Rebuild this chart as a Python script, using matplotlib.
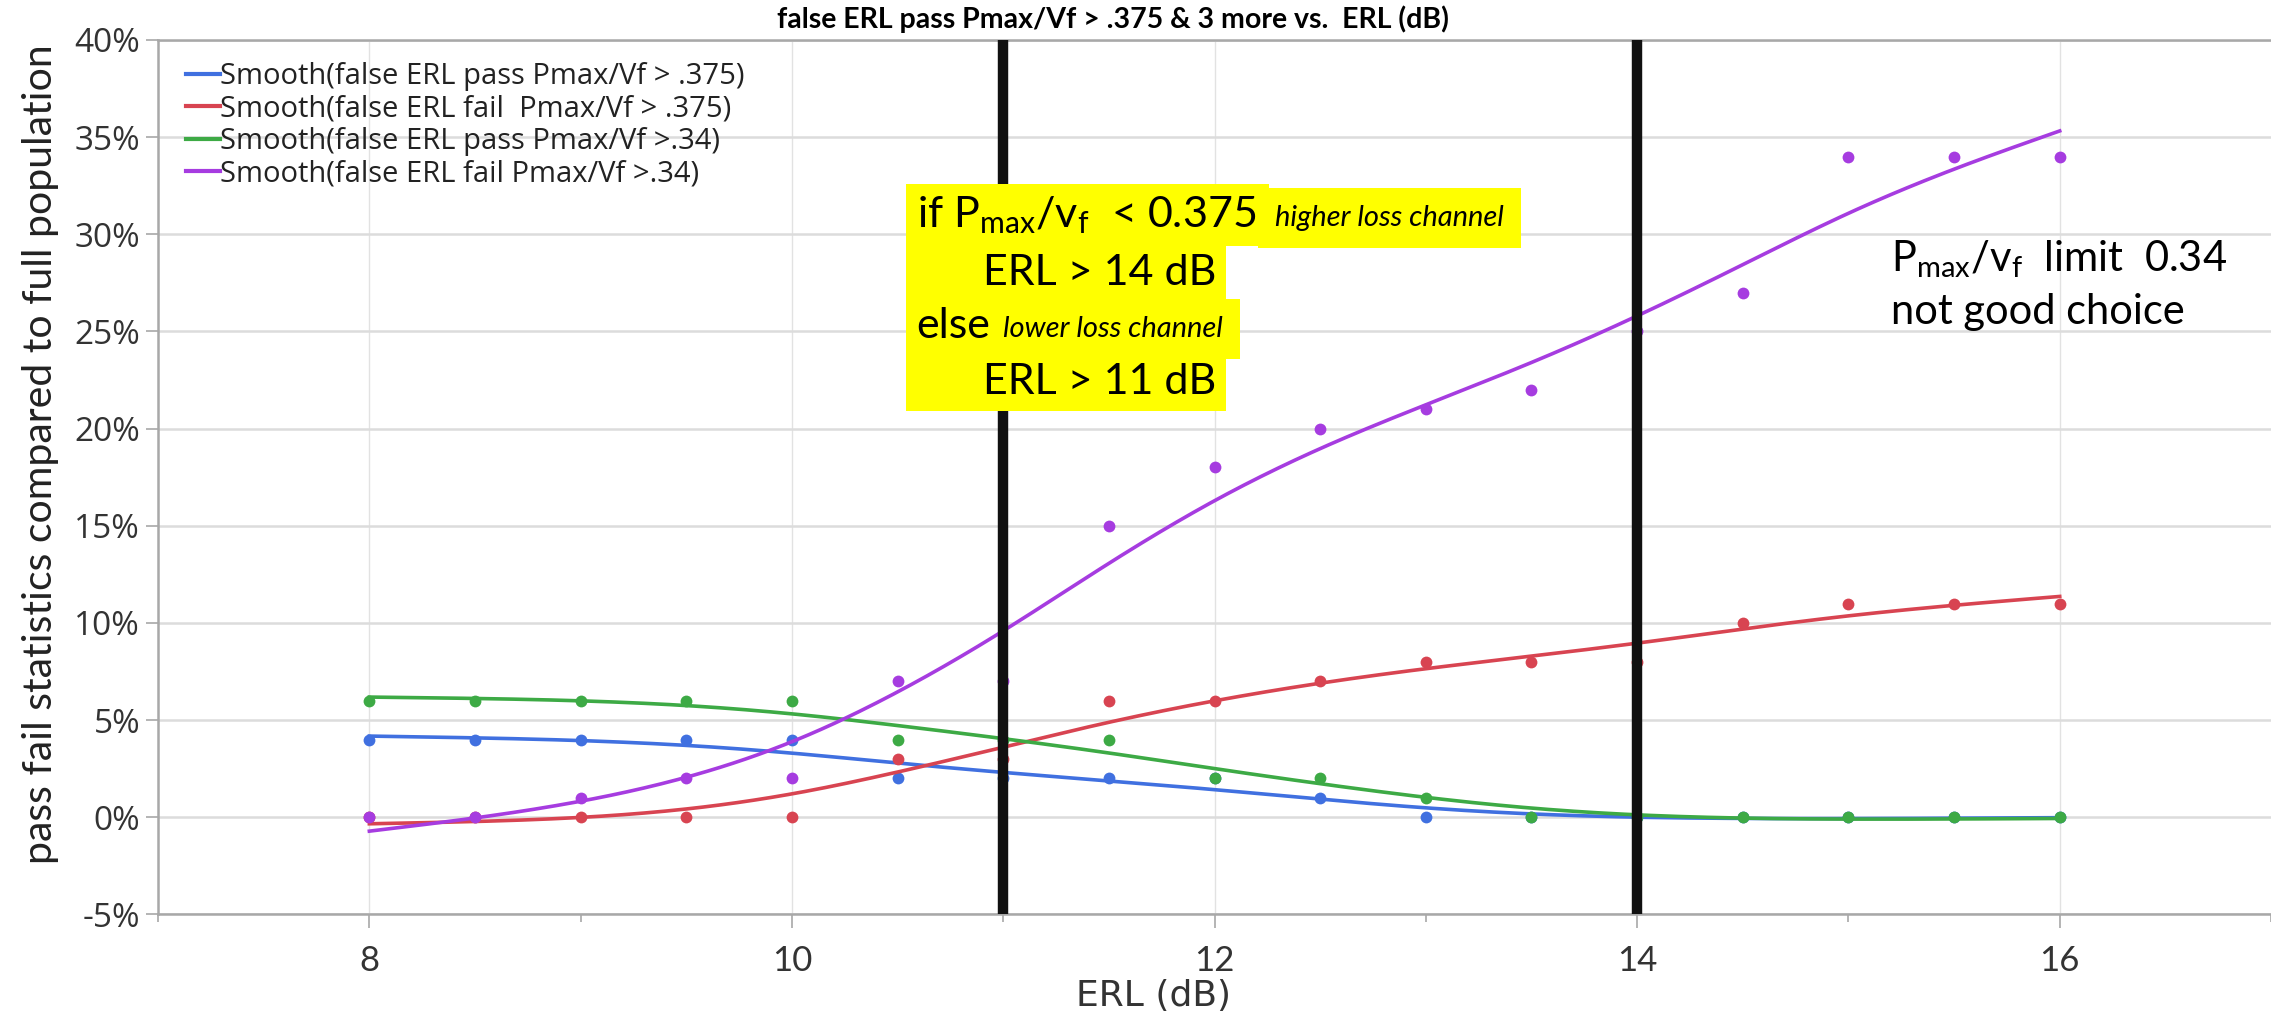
"""Smoothed false ERL pass/fail rates vs ERL, with Pmax/vf rule annotations."""

import matplotlib

matplotlib.use("Agg")

import matplotlib.pyplot as plt
import numpy as np
from matplotlib.ticker import FuncFormatter, MultipleLocator

# ---- data (percent) ----
erl = [8, 8.5, 9, 9.5, 10, 10.5, 11, 11.5, 12, 12.5, 13, 13.5, 14, 14.5, 15, 15.5, 16]
pass_375 = [4, 4, 4, 4, 4, 2, 2, 2, 2, 1, 0, 0, 0, 0, 0, 0, 0]
fail_375 = [0, 0, 0, 0, 0, 3, 3, 6, 6, 7, 8, 8, 8, 10, 11, 11, 11]
pass_34 = [6, 6, 6, 6, 6, 4, 4, 4, 2, 2, 1, 0, 0, 0, 0, 0, 0]
fail_34 = [0, 0, 1, 2, 2, 7, 7, 15, 18, 20, 21, 22, 25, 27, 34, 34, 34]

labels = [
    "Smooth(false ERL pass Pmax/Vf > .375)",
    "Smooth(false ERL fail  Pmax/Vf > .375)",
    "Smooth(false ERL pass Pmax/Vf >.34)",
    "Smooth(false ERL fail Pmax/Vf >.34)",
]
colors = ["#4070e0", "#d84451", "#3daa45", "#a63ce0"]
limits = [11, 14]

SMOOTH_LAMBDA = 0.5

plt.rcParams["mathtext.fontset"] = "custom"
plt.rcParams["mathtext.rm"] = "Lato"
plt.rcParams["mathtext.it"] = "Lato:italic"


def smoothing_spline(x, y, lam, n=401):
    """Discrete cubic smoothing spline on a fine grid."""
    x = np.asarray(x, float)
    y = np.asarray(y, float)
    grid = np.linspace(x.min(), x.max(), n)
    h = grid[1] - grid[0]
    idx = np.rint((x - grid[0]) / h).astype(int)
    w = np.zeros((len(x), n))
    w[np.arange(len(x)), idx] = 1.0
    d = np.diff(np.eye(n), 2, axis=0)
    a = w.T @ w + lam / h**3 * (d.T @ d)
    return grid, np.linalg.solve(a, w.T @ y)


fig = plt.figure(figsize=(22.71, 10.24), dpi=100)
ax = fig.add_axes([0.0696, 0.107, 0.9304, 0.854])

for series, color, label in zip([pass_375, fail_375, pass_34, fail_34], colors, labels):
    gx, gy = smoothing_spline(erl, series, SMOOTH_LAMBDA)
    ax.plot(gx, gy, color=color, lw=2.6, label=label, zorder=3)
    ax.plot(erl, series, "o", color=color, ms=8.5, mec="none", zorder=3)

for xv in limits:
    ax.axvline(xv, color="#111111", lw=7.5, zorder=4)

ax.set_xlim(7, 17)
ax.set_ylim(-5, 40)
ax.xaxis.set_major_locator(MultipleLocator(2))
ax.xaxis.set_minor_locator(MultipleLocator(1))
ax.yaxis.set_major_locator(MultipleLocator(5))
ax.yaxis.set_major_formatter(FuncFormatter(lambda v, _: f"{v:.0f}%"))
ax.grid(True, axis="y", color="#dcdcdc", lw=1.8, zorder=0)
ax.grid(True, axis="x", which="major", color="#e2e2e2", lw=1.0, zorder=0)

for side in ["left", "bottom", "top"]:
    ax.spines[side].set_color("#a8a8a8")
    ax.spines[side].set_linewidth(1.8)
ax.spines["right"].set_visible(False)
ax.tick_params(axis="both", which="both", direction="out", color="#a8a8a8", width=1.2)
ax.tick_params(axis="y", length=9, labelsize=24, labelcolor="#333333", pad=4)
ax.tick_params(axis="x", which="major", length=10, labelsize=25, labelcolor="#333333", pad=12)
ax.tick_params(axis="x", which="minor", length=6)
for lab in ax.get_yticklabels():
    lab.set_family("Open Sans")
for lab in ax.get_xticklabels():
    lab.set_family("Lato")

leg = ax.legend(
    loc="upper left",
    bbox_to_anchor=(0.005, 0.995),
    frameon=False,
    handlelength=1.15,
    handletextpad=0.0,
    labelspacing=0.12,
    borderaxespad=0.2,
    prop={"family": "Open Sans", "size": 21},
)
for line in leg.get_lines():
    line.set_linewidth(3)
for txt in leg.get_texts():
    txt.set_color("#222222")

fig.text(0.49, 0.981, "false ERL pass Pmax/Vf > .375 & 3 more vs.  ERL (dB)",
         ha="center", va="center", fontsize=20.5, fontweight="bold", family="Lato")
fig.text(0.018, 0.556, "pass fail statistics compared to full population",
         rotation=90, ha="center", va="center", fontsize=29.5, family="Lato", color="#222222")
fig.text(0.508, 0.027, "ERL (dB)", ha="center", va="center", fontsize=26, color="#333333")

# ---- yellow rule box ----
yellow = dict(boxstyle="square,pad=0.24", fc="#ffff00", ec="none")
yellow_small = dict(boxstyle="square,pad=0.58", fc="#ffff00", ec="none")
big = dict(family="Lato", fontsize=31, color="black", zorder=6)
small = dict(family="Lato", fontsize=21, style="italic", color="black", zorder=5)

t1 = ax.text(10.59, 31.0, r"if P$_{\rm max}$/v$_{\rm f}$  < 0.375 ", va="center", ha="left",
             bbox=yellow, **big)
ax.annotate("higher loss channel", xy=(1, 0.42), xycoords=t1, xytext=(12, 0),
            textcoords="offset points", va="center", ha="left", bbox=yellow_small, **small)
ax.text(10.59, 28.0, "      ERL > 14 dB", va="center", ha="left", bbox=yellow, **big)
t3 = ax.text(10.59, 25.3, "else", va="center", ha="left", bbox=yellow, **big)
ax.annotate("lower loss channel", xy=(1, 0.42), xycoords=t3, xytext=(9, 0),
            textcoords="offset points", va="center", ha="left", bbox=yellow_small, **small)
ax.text(10.59, 22.4, "      ERL > 11 dB", va="center", ha="left", bbox=yellow, **big)

# ---- right-hand note ----
ax.text(15.2, 28.7, r"P$_{\rm max}$/v$_{\rm f}$  limit  0.34", va="center", ha="left",
        family="Lato", fontsize=30, color="black", zorder=6)
ax.text(15.2, 26.0, "not good choice", va="center", ha="left",
        family="Lato", fontsize=30, color="black", zorder=6)

fig.savefig("out.png", dpi=100)
